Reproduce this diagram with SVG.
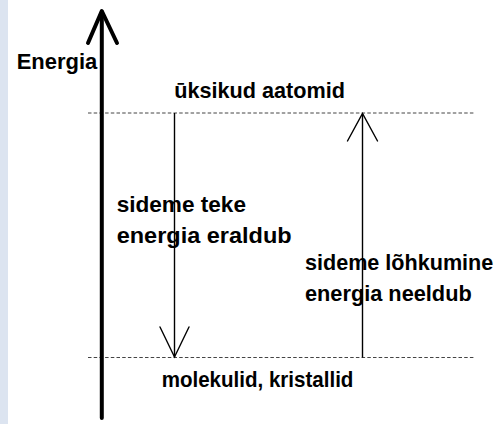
<svg xmlns="http://www.w3.org/2000/svg" width="497" height="424" viewBox="0 0 497 424">
<style>
text{font-family:"Liberation Sans",Arial,sans-serif;font-weight:bold;font-size:22px;fill:#000}
.dot{stroke:#444;stroke-width:1;stroke-dasharray:3.5 2.2;fill:none}
.thin{stroke:#000;stroke-width:1.4;fill:none}
.head{stroke:#000;stroke-width:1.4;fill:none;stroke-linecap:round;stroke-linejoin:miter}
.axis{stroke:#000;stroke-width:4;fill:none;stroke-linecap:round;stroke-linejoin:round}
</style>
<rect x="0" y="0" width="497" height="424" fill="#fff"/>
<rect x="0" y="0" width="8" height="424" fill="#dce4f0"/>
<g id="levels">
<line class="dot" x1="88" y1="113" x2="475" y2="113"/>
<line class="dot" x1="88" y1="357.5" x2="475" y2="357.5"/>
</g>
<g id="axis">
<line class="axis" x1="101.8" y1="12" x2="101.8" y2="418"/>
<polyline class="axis" points="88,43 101.8,11 117,43"/>
<text x="16.7" y="69" textLength="80.6" lengthAdjust="spacingAndGlyphs">Energia</text>
</g>
<g id="node-atoms">
<text x="174.3" y="97.5" textLength="170.7" lengthAdjust="spacingAndGlyphs">ūksikud aatomid</text>
</g>
<g id="node-molecules">
<text x="161.7" y="386.5" textLength="191.7" lengthAdjust="spacingAndGlyphs">molekulid, kristallid</text>
</g>
<g id="connectors">
<line class="thin" x1="174.5" y1="113" x2="174.5" y2="357"/>
<polyline class="head" points="160,327 174.5,357 189,327"/>
<line class="thin" x1="362.5" y1="114" x2="362.5" y2="357.5"/>
<polyline class="head" points="347.5,141 362.5,113.5 377.5,141"/>
</g>
<g id="label-release">
<text x="116.7" y="212" textLength="129.3" lengthAdjust="spacingAndGlyphs">sideme teke</text>
<text x="116.7" y="243" textLength="175" lengthAdjust="spacingAndGlyphs">energia eraldub</text>
</g>
<g id="label-absorb">
<text x="305" y="270" textLength="188.3" lengthAdjust="spacingAndGlyphs">sideme lõhkumine</text>
<text x="305" y="300.5" textLength="166.7" lengthAdjust="spacingAndGlyphs">energia neeldub</text>
</g>
</svg>
